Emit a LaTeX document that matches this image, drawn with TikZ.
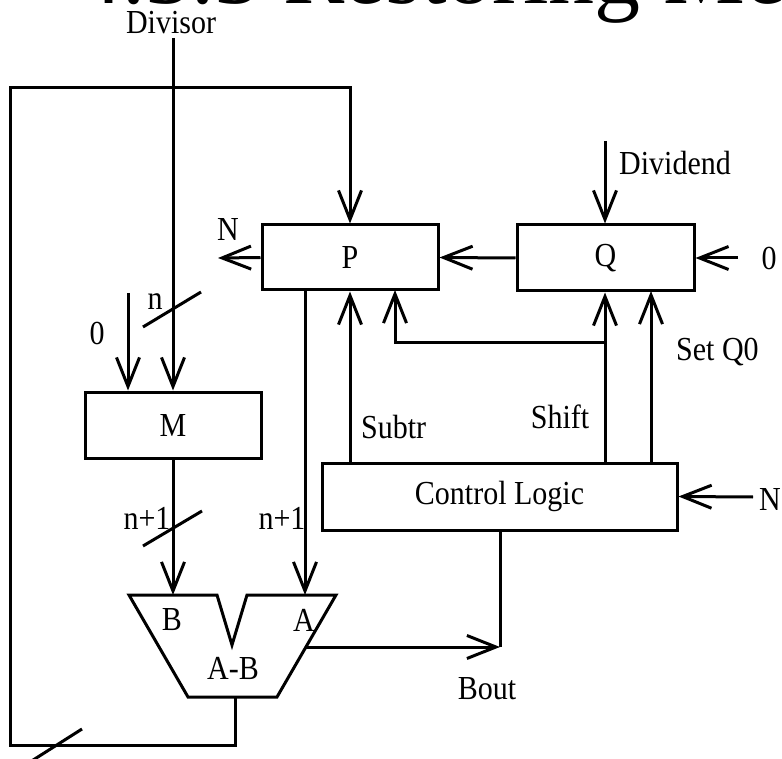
\documentclass[tikz,border=0pt]{standalone}
\usepackage{fontspec}
\setmainfont{Liberation Serif}
\usetikzlibrary{arrows.meta}
\newcommand{\tall}[1]{\scalebox{1}[1.12]{#1}}
\tikzset{
  wire/.style={line width=3pt},
  arr/.style={wire,-{Straight Barb[length=29pt,width=23pt]}},
  reg/.style={draw,line width=3pt,rectangle,inner sep=0pt},
  lab/.style={inner sep=0pt,font=\fontsize{30}{36}\selectfont},
}
\begin{document}
\begin{tikzpicture}[x=1pt,y=-1pt]
\useasboundingbox (0,0) rectangle (782,759);
\clip (0,0) rectangle (782,759);
% title (cut off at the top)
\node[anchor=base west,inner sep=0pt,font=\fontsize{92}{92}\selectfont] (title) at (76,4) {4.3.3 Restoring Me};
% registers
\node[reg,minimum width=176pt,minimum height=65pt,lab] (P) at (350,257.5) {\tall{P}};
\node[reg,minimum width=177pt,minimum height=66pt,lab] (Q) at (605.5,258) {\tall{Q}};
\node[reg,minimum width=176pt,minimum height=66pt,lab] (M) at (173,425) {\tall{M}};
\node[reg,minimum width=355pt,minimum height=67pt,lab] (CL) at (499.5,496.5) {\tall{Control Logic}};
% subtractor
\draw[wire,line join=miter] (129,595) -- (217,595) -- (232,645) -- (247,595) -- (336,595) -- (277,697) -- (188,697) -- cycle;
\node[lab] (lB) at (172,620) {\tall{B}};
\node[lab] (lA) at (304,620) {\tall{A}};
\node[lab] (lAB) at (233,668) {\tall{A-B}};
\coordinate (tB) at (173,595);
\coordinate (tA) at (305,595);
\coordinate (tOut) at (235,697);
\coordinate (tR) at (306,647);
% labels
\node[lab] (divl) at (171,23) {\tall{Divisor}};
\node[lab,anchor=west] (divd) at (619,163) {\tall{Dividend}};
\node[lab] (zq) at (769,258) {\tall{0}};
\node[lab] (nP) at (228,230) {\tall{N}};
\node[lab] (zm) at (97,333) {\tall{0}};
\node[lab] (nl) at (155,302) {\tall{n}};
\node[lab] (n1a) at (147,518) {\tall{n+1}};
\node[lab] (n1b) at (282,518) {\tall{n+1}};
\node[lab,anchor=west] (subtr) at (361,427) {\tall{Subtr}};
\node[lab] (shift) at (560,417) {\tall{Shift}};
\node[lab,anchor=west] (setq) at (676,352) {\tall{Set Q0}};
\node[lab] (bout) at (487,689) {\tall{Bout}};
\node[lab] (nC) at (770,499) {\tall{N}};
% coordinates
\coordinate (dtop) at (173,38);
\coordinate (zmtop) at (128,293);
\coordinate (fb1) at (235,745);
\coordinate (fb2) at (10,745);
\coordinate (fb3) at (10,88);
\coordinate (pN) at (218,258);
\coordinate (dvtop) at (605,141);
\coordinate (zqs) at (738,258);
\coordinate (sj) at (605,343);
\coordinate (pin2) at (395,290);
\coordinate (sqb) at (651,463);
\coordinate (sqt) at (651,291);
\coordinate (bo) at (500,647);
\coordinate (ncs) at (753,497);
% connectors
\draw[arr] (dtop) -- (M.north);
\draw[arr] (zmtop) -- (zmtop |- M.north);
\draw[wire] (143,327) -- (201,292);
\draw[arr] (tOut) -- (fb1) -- (fb2) -- (fb3) -| (P.north);
\draw[wire] (30,762) -- (82,729);
\draw[arr] (P.west) -- (pN);
\draw[arr] (Q.west) -- (P.east);
\draw[arr] (dvtop) -- (dvtop |- Q.north);
\draw[arr] (zqs) -- (Q.east);
\draw[arr] (P.south |- CL.north) -- (P.south);
\draw[arr] (sj |- CL.north) -- (sj |- Q.south);
\draw[arr] (sj) -| (pin2);
\draw[arr] (sqb) -- (sqt);
\draw[arr] (tA |- P.south) -- (tA);
\draw[arr] (M.south -| tB) -- (tB);
\draw[wire] (143,546) -- (202,511);
\draw[arr] (tR) -- (bo);
\draw[wire] (bo |- CL.south) -- (bo);
\draw[arr] (ncs) -- (CL.east);
\end{tikzpicture}
\end{document}
